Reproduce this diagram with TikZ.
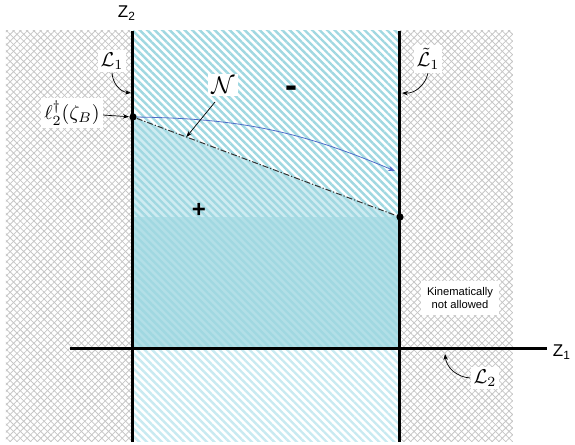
\documentclass[tikz,border=0pt]{standalone}
\usepackage{fontspec}
\setsansfont{Liberation Sans}
\usetikzlibrary{arrows.meta,positioning,calc,patterns.meta}
\tikzset{>=Stealth}
\definecolor{hatchblue}{RGB}{160,216,225}
\definecolor{hatchlight}{RGB}{200,234,241}
\definecolor{fillcyan}{RGB}{206,235,241}
\definecolor{fillband}{RGB}{178,223,231}
\definecolor{flowblue}{RGB}{80,110,200}

\begin{document}
\begin{tikzpicture}[x=0.5pt, y=0.5pt,
    bound/.style={line width=1.5pt},
    dot/.style={circle, fill=black, inner sep=0pt, minimum size=3.6pt},
    tag/.style={fill=white, inner sep=1.5pt},
    axlabel/.style={font=\sffamily\fontsize{8.5}{9}\selectfont},
    sign/.style={font=\sffamily\bfseries\fontsize{12}{12}\selectfont},
    lblarrow/.style={->, >={Stealth[length=3pt,width=2.2pt]}, line width=0.35pt},
    stripes/.style={pattern={Lines[angle=-45,distance=2.65pt,line width=1.2pt]}, pattern color=hatchblue},
    >=Stealth
  ]
    \useasboundingbox (0,0) rectangle (575,445);
    % allowed strip
    \fill[fillcyan] (133,328) -- (400,228) -- (400,96) -- (133,96) -- cycle;
    \fill[fillband] (133,96) rectangle (400,228);
    \fill[stripes] (133,96) rectangle (400,414);
    \fill[stripes, pattern color=hatchlight] (133,3) rectangle (400,96);
    % kinematically forbidden
    \foreach \ang in {45,-45} {
      \fill[pattern={Lines[angle=\ang,distance=2.4pt,line width=0.4pt]}, pattern color=gray!45] (6,3) rectangle (133,414);
      \fill[pattern={Lines[angle=\ang,distance=2.4pt,line width=0.4pt]}, pattern color=gray!45] (400,3) rectangle (513,414);
    }
    % axes and boundaries
    \coordinate (z1start) at (70,96);
    \coordinate (z1end) at (547,96);
    \coordinate (l1top) at (133,414);
    \coordinate (l1bot) at (133,3);
    \coordinate (lttop) at (400,414);
    \coordinate (ltbot) at (400,3);
    \draw[bound] (z1start) -- (z1end);
    \draw[bound] (l1top) -- (l1bot);
    \draw[bound] (lttop) -- (ltbot);
    \node[axlabel] (lblZ1) at (562,93) {Z\textsubscript{1}};
    \node[axlabel] (lblZ2) at (127,432) {Z\textsubscript{2}};
    % boundary curve
    \node[dot] (ptB) at (133,328) {};
    \node[dot] (ptC) at (400,228) {};
    \draw[line width=0.5pt, black!80, dash pattern=on 3pt off 1pt on 0.6pt off 1pt] (ptB) -- (ptC);
    \coordinate (flowend) at (395,274);
    \draw[->, flowblue, line width=0.4pt, >={Stealth[length=3.5pt,width=2.6pt]}] (ptB) to[bend left=11] (flowend);
    \node[sign, font=\sffamily\bfseries\fontsize{18}{18}\selectfont] (lblMinus) at (291,353) {-};
    \node[sign] (lblPlus) at (199,235) {+};
    % labels
    \node[tag, font=\large] (lblN) at (223,360) {$\mathcal{N}$};
    \coordinate (nhit) at ($(ptB)!0.2!(ptC)$);
    \draw[lblarrow] (215,343) -- (nhit);
    \node[tag] (lblL1) at (112,384) {$\mathcal{L}_1$};
    \coordinate (l1hit) at (131,352);
    \draw[lblarrow] (lblL1.south) to[bend right=40] (l1hit);
    \node[tag] (lblLt) at (428,386) {$\tilde{\mathcal{L}}_1$};
    \coordinate (lthit) at (402,352);
    \draw[lblarrow] (lblLt.south) to[bend left=40] (lthit);
    \node[tag] (lblEll) at (72,332) {$\ell_2^{\dagger}(\zeta_B)$};
    \draw[lblarrow] (lblEll) -- (ptB);
    \node[tag, inner sep=3pt, align=center, font=\sffamily\fontsize{5.6}{6.8}\selectfont] (lblKin) at (460,147) {Kinematically\\not allowed};
    \node[tag] (lblL2) at (485,67) {$\mathcal{L}_2$};
    \coordinate (l2hit) at (445,91);
    \draw[lblarrow] (lblL2.west) to[bend left=40] (l2hit);
\end{tikzpicture}
\end{document}
